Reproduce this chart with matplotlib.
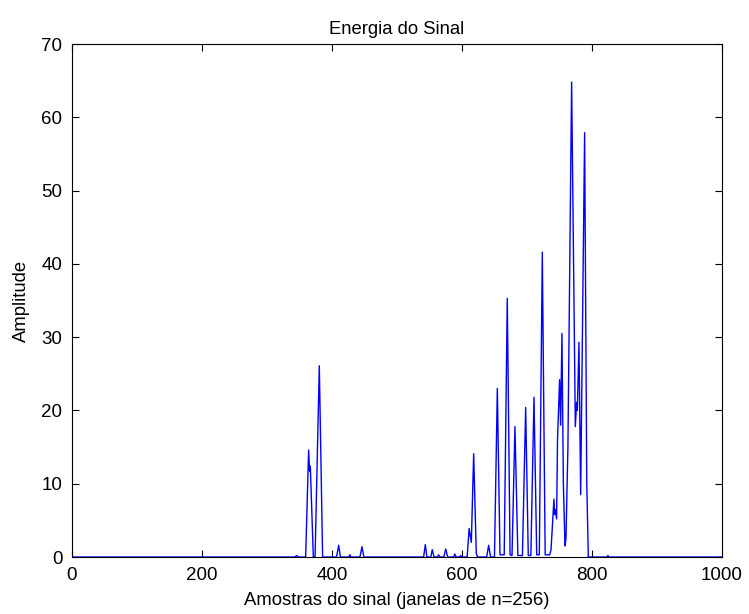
import matplotlib
matplotlib.use('Agg')
import matplotlib.pyplot as plt

plt.rcParams['font.family'] = ['Liberation Sans', 'DejaVu Sans']

# Vertices of the energy curve (window index, amplitude)
amostras = [0, 343, 345.7, 348, 359.5, 364.1, 365.6, 366.7, 371.3, 374, 380.5, 385.6,
            407, 410.3, 413, 426, 427.7, 429, 443, 446.2, 449,
            541, 543.6, 546, 552, 554.3, 557, 562, 564, 566, 572, 575, 578,
            587, 589, 591, 596, 598, 600, 608, 611, 614.4, 618, 622, 624,
            638, 641, 644, 650, 654.4, 658.5, 665, 669.7, 674, 677, 681.5, 686,
            693, 698, 702, 706, 710.8, 715, 719, 723.6, 728, 735, 737,
            741.5, 742.5, 743.5, 745.6, 747, 750.2, 751.8, 753.8, 756, 758.5,
            760, 763, 768.7, 774.4, 776.4, 777.5, 780, 782.6, 788.7, 792, 794.4,
            823, 824.6, 826, 1000]
energia = [0, 0, 0.2, 0, 0, 14.6, 11.7, 12.4, 0, 0, 26.1, 0,
           0, 1.6, 0, 0, 0.3, 0, 0, 1.4, 0,
           0, 1.7, 0, 0, 1.0, 0, 0, 0.3, 0, 0, 1.1, 0,
           0, 0.4, 0, 0, 0.2, 0, 0, 3.9, 2.0, 14.1, 0.5, 0,
           0, 1.6, 0, 0, 23.0, 0.3, 0.3, 35.3, 0.3, 0.2, 17.8, 0.2,
           0.2, 20.4, 0.2, 0.2, 21.8, 0.3, 0.3, 41.6, 0.3, 0.3, 1.0,
           7.9, 5.8, 6.5, 5.2, 16.0, 24.2, 18.0, 30.5, 10.0, 1.5,
           2.5, 15.0, 64.8, 17.8, 21.1, 20.0, 29.3, 8.5, 57.9, 10.0, 0,
           0, 0.2, 0, 0]

fig = plt.figure(figsize=(7.49, 6.14), dpi=100)
ax = fig.add_axes([0.0961, 0.0928, 0.8678, 0.8355])
ax.plot(amostras, energia, color='#0000ff', linewidth=1)

ax.set_xlim(0, 1000)
ax.set_ylim(0, 70)
ax.set_xticks(range(0, 1001, 200))
ax.set_yticks(range(0, 71, 10))
ax.tick_params(direction='in', top=True, right=True, length=5, labelsize=13.5, pad=7)
ax.set_title('Energia do Sinal', fontsize=13.3, pad=7)
ax.set_xlabel('Amostras do sinal (janelas de n=256)', fontsize=13.3, labelpad=6)
ax.set_ylabel('Amplitude', fontsize=13.3, labelpad=8)

fig.savefig('out.png', dpi=100)
